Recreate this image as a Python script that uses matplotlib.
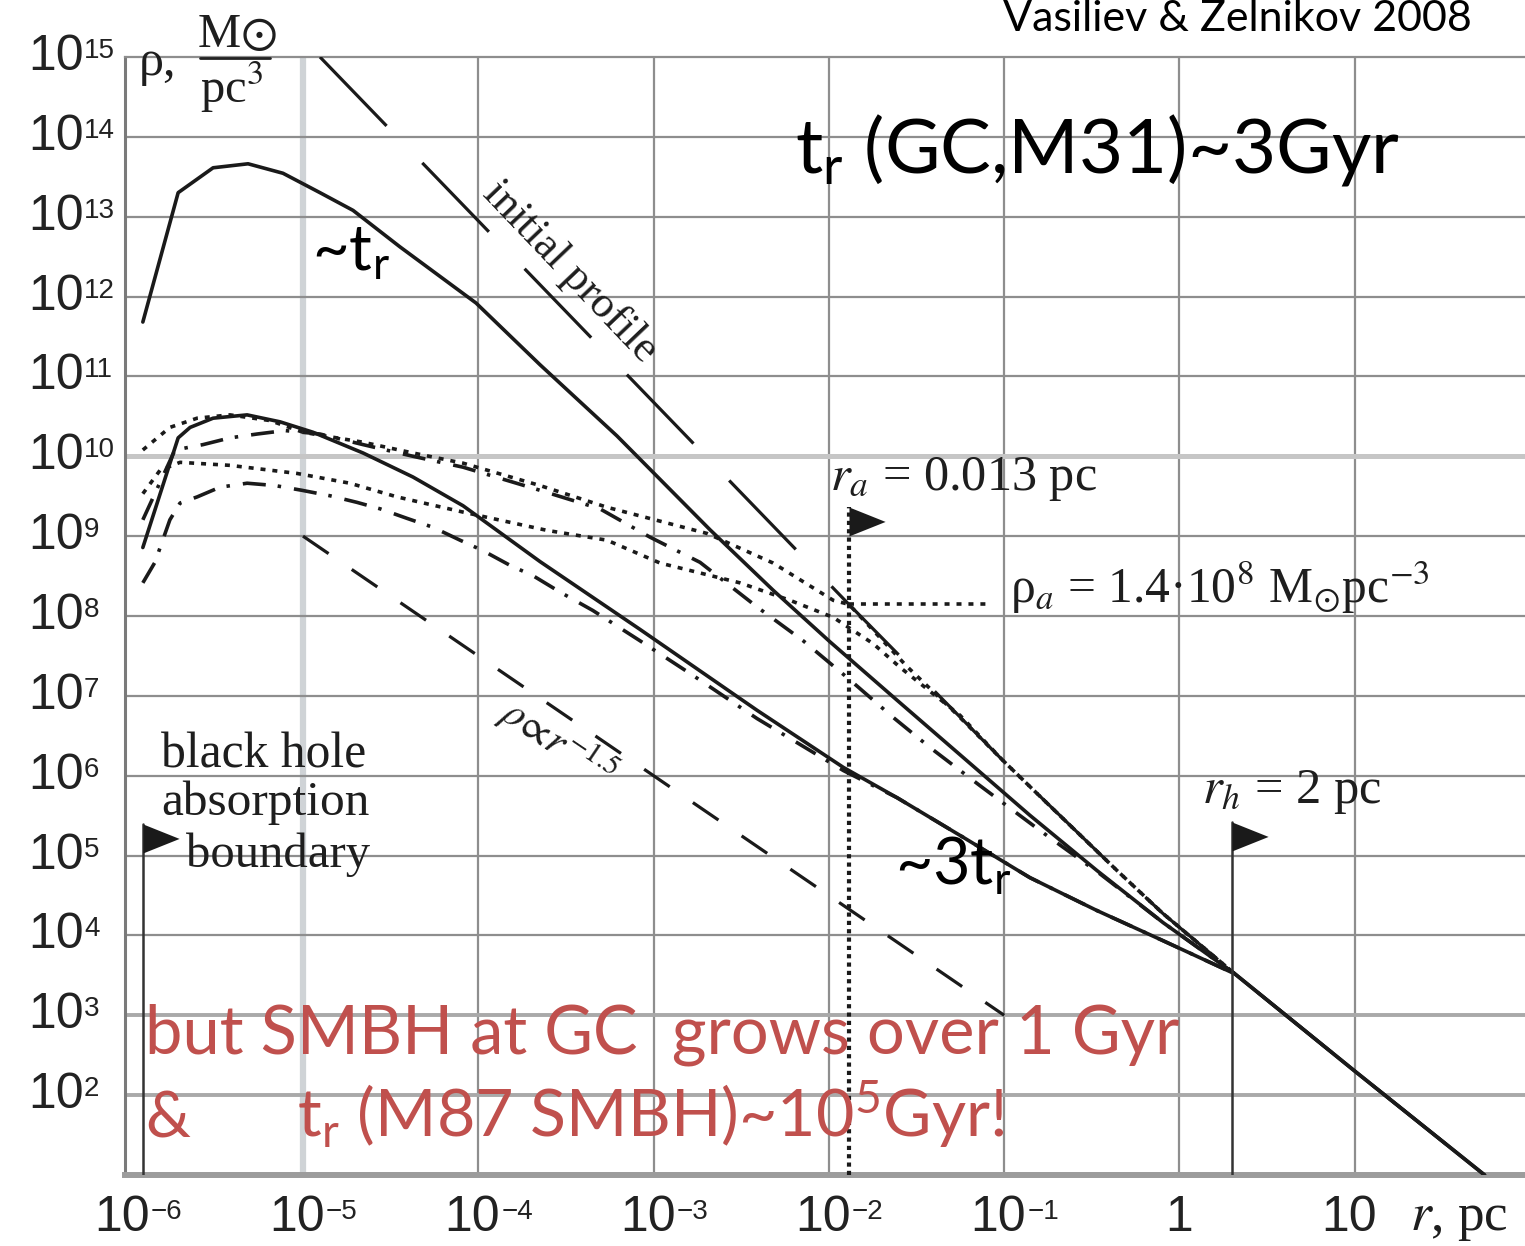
import matplotlib
matplotlib.use("Agg")
import matplotlib.pyplot as plt
from matplotlib.path import Path
from matplotlib.lines import Line2D

plt.rcParams['mathtext.fontset'] = 'custom'
plt.rcParams['mathtext.rm'] = 'Lato'
plt.rcParams['mathtext.it'] = 'Lato:italic'
plt.rcParams['mathtext.bf'] = 'Lato:bold'
plt.rcParams['lines.scale_dashes'] = False
plt.rcParams['lines.dash_capstyle'] = 'butt'
plt.rcParams['lines.solid_capstyle'] = 'round'

W, H, DPI = 1525, 1246, 100

# ---------------- data: radius r [pc], density rho [Msun/pc^3] ----------------
# initial profile (power-law spike)
r_init = [1.25e-5, 1.3e-2, 9.84e-2, 0.440, 0.805, 2.07, 10.0, 55.0]
rho_init = [1e15, 1.4e8, 1.55e6, 6.5e4, 1.88e4, 3.3e3, 200, 10]

# evolved profile after ~t_r (solid)
r_t1 = [1.22e-6, 1.94e-6, 3.07e-6, 4.86e-6, 7.69e-6, 1.25e-5, 1.93e-5, 3.57e-5,
        9.71e-5, 2.25e-4, 6.18e-4, 2.10e-3, 4.81e-3, 1.02e-2, 2.45e-2, 5.82e-2,
        0.140, 0.338, 0.805, 2.07, 10.0, 55.0]
rho_t1 = [4.8e11, 2.0e13, 4.1e13, 4.6e13, 3.5e13, 2.0e13, 1.2e13, 4.2e12,
          8.3e11, 1.4e11, 1.8e10, 1.2e9, 2.1e8, 4.7e7, 8.8e6, 1.7e6,
          3.2e5, 6.5e4, 1.45e4, 3.3e3, 200, 10]

# evolved profile after ~3 t_r (solid)
r_t3 = [1.22e-6, 1.94e-6, 2.27e-6, 3.07e-6, 4.80e-6, 7.40e-6, 1.14e-5, 2.20e-5,
        4.24e-5, 8.19e-5, 2.25e-4, 8.36e-4, 3.89e-3, 1.21e-2, 2.45e-2, 5.82e-2,
        0.140, 0.338, 0.805, 2.07, 10.0, 55.0]
rho_t3 = [7.2e8, 1.7e10, 2.3e10, 3.0e10, 3.3e10, 2.7e10, 2.0e10, 1.1e10,
          5.5e9, 2.4e9, 4.8e8, 6.8e7, 6.6e6, 1.27e6, 5.3e5, 1.7e5,
          5.3e4, 2.05e4, 8.6e3, 3.3e3, 200, 10]

# dotted, upper
r_dot1 = [1.22e-6, 1.74e-6, 2.49e-6, 3.83e-6, 6.49e-6, 1.0e-5, 2.20e-5, 4.24e-5,
          8.19e-5, 2.25e-4, 5.42e-4, 2.02e-3, 4.81e-3, 1.06e-2, 1.3e-2, 2.79e-2,
          5.38e-2, 9.84e-2, 0.182, 0.440, 0.805, 2.07]
rho_dot1 = [1.2e10, 2.3e10, 3.0e10, 3.3e10, 2.8e10, 2.0e10, 1.5e10, 1.1e10,
            8.2e9, 4.3e9, 2.3e9, 1.08e9, 4.6e8, 1.57e8, 1.4e8, 2.33e7,
            5.85e6, 1.55e6, 4.2e5, 6.5e4, 1.88e4, 3.3e3]

# dotted, lower
r_dot2 = [1.22e-6, 1.53e-6, 1.99e-6, 3.83e-6, 9.25e-6, 1.85e-5, 3.44e-5, 8.19e-5,
          2.47e-4, 5.42e-4, 1.09e-3, 3.11e-3, 6.01e-3, 1.06e-2, 1.79e-2, 2.55e-2,
          5.60e-2, 9.84e-2, 0.182, 0.440, 0.805, 2.07]
rho_dot2 = [3.4e9, 6.7e9, 8.4e9, 7.7e9, 6.1e9, 4.6e9, 3.1e9, 2.0e9,
            1.18e9, 8.9e8, 4.6e8, 2.6e8, 1.57e8, 9.6e7, 4.5e7, 2.27e7,
            5.7e6, 1.55e6, 4.2e5, 6.5e4, 1.88e4, 3.3e3]

# dash-dotted, upper
r_dd1 = [1.22e-6, 1.86e-6, 2.69e-6, 3.83e-6, 5.47e-6, 7.89e-6, 1.25e-5, 2.20e-5,
         4.24e-5, 8.19e-5, 2.25e-4, 4.94e-4, 9.55e-4, 1.84e-3, 3.89e-3, 7.13e-3,
         1.27e-2, 2.32e-2, 3.78e-2, 7.28e-2, 0.160, 0.352, 0.805, 2.07]
rho_dd1 = [1.6e9, 1.2e10, 1.4e10, 1.7e10, 1.9e10, 2.1e10, 1.9e10, 1.4e10,
           1.0e10, 7.3e9, 3.75e9, 2.2e9, 9.7e8, 4.7e8, 1.3e8, 4.9e7,
           1.7e7, 5.4e6, 2.25e6, 7.5e5, 2.06e5, 5.9e4, 1.45e4, 3.3e3]

# dash-dotted, lower
r_dd2 = [1.22e-6, 1.43e-6, 1.74e-6, 1.99e-6, 2.49e-6, 3.36e-6, 4.80e-6, 6.92e-6,
         9.86e-6, 1.43e-5, 2.03e-5, 2.75e-5, 3.92e-5, 5.52e-5, 7.87e-5, 1.06e-4,
         1.52e-4, 2.05e-4, 2.92e-4, 4.51e-4, 8.36e-4, 1.68e-3, 3.89e-3, 1.21e-2,
         2.45e-2, 5.82e-2, 0.140, 0.338, 0.805, 2.07]
rho_dd2 = [2.6e8, 4.7e8, 1.6e9, 2.6e9, 3.1e9, 4.1e9, 4.6e9, 4.3e9,
           3.75e9, 3.2e9, 2.65e9, 2.2e9, 1.67e9, 1.29e9, 8.9e8, 6.6e8,
           4.3e8, 3.2e8, 2.0e8, 1.17e8, 4.9e7, 1.8e7, 5.2e6, 1.16e6,
           5.3e5, 1.7e5, 5.3e4, 2.05e4, 8.6e3, 3.3e3]

# reference slope rho ~ r^-1.5
r_ref = [1e-5, 1e-1]
rho_ref = [1e9, 1e3]

# characteristic radii / densities
r_bh = 1.22e-6          # black hole absorption boundary
rho_bh_flag = 2.5e5
r_a = 0.013
rho_a = 1.4e8
rho_a_flag = 2.3e9
r_a_line_end = 0.083
r_h = 2.0
rho_h_flag = 2.6e5

# axis ticks
x_exps = [-6, -5, -4, -3, -2, -1, 0, 1]
y_exps = [15, 14, 13, 12, 11, 10, 9, 8, 7, 6, 5, 4, 3, 2]

# ---------------- figure ----------------
fig = plt.figure(figsize=(W / DPI, H / DPI), dpi=DPI)
ax = fig.add_axes([125 / W, 1 - 1175 / H, 1400 / W, (1175 - 57) / H])
ax.set_xscale('log')
ax.set_yscale('log')
ax.set_xlim(10 ** -6.0154, 10 ** 1.971)
ax.set_ylim(10, 1e15)
ax.minorticks_off()
ax.set_xticks([])
ax.set_yticks([])
ax.tick_params(length=0)

GRID = '#8e8e8e'
for e in x_exps[1:]:
    if e == -5:
        ax.axvline(10.0 ** e, color='#cfd3d6', lw=4.5, zorder=0)
    else:
        ax.axvline(10.0 ** e, color=GRID, lw=1.6, zorder=0)
for e in y_exps[1:]:
    if e == 10:
        ax.axhline(10.0 ** e, color='#c6c6c6', lw=3.6, zorder=0)
    elif e in (3, 2):
        ax.axhline(10.0 ** e, color='#a9a9a9', lw=2.8, zorder=0)
    else:
        ax.axhline(10.0 ** e, color=GRID, lw=1.6, zorder=0)

ax.spines['right'].set_visible(False)
ax.spines['top'].set_color(GRID)
ax.spines['top'].set_linewidth(1.6)
ax.spines['left'].set_color('#7a7a7a')
ax.spines['left'].set_linewidth(2.2)
ax.spines['bottom'].set_color('#9c9c9c')
ax.spines['bottom'].set_linewidth(4.3)

K = '#1a1a1a'
LW = 2.6
dotted = (0, (3.6, 5.0))
dashdot = (0, (16.6, 8.6, 2.5, 9.4))

ax.plot(r_init, rho_init, color=K, lw=2.3, ls=(0, (69, 37)), zorder=3)
ax.plot(r_ref, rho_ref, color=K, lw=2.3, ls=(0, (22.3, 20.2)), zorder=3)
ax.plot(r_dot1, rho_dot1, color=K, lw=LW, ls=dotted, zorder=3)
ax.plot(r_dot2, rho_dot2, color=K, lw=LW, ls=dotted, zorder=3)
ax.plot(r_dd1, rho_dd1, color=K, lw=LW, ls=dashdot, zorder=3)
ax.plot(r_dd2, rho_dd2, color=K, lw=LW, ls=dashdot, zorder=3)
ax.plot(r_t1, rho_t1, color=K, lw=LW, zorder=4)
ax.plot(r_t3, rho_t3, color=K, lw=LW, zorder=4)

# poles with flags
flag = Path([(0, 0), (1, -0.4), (0, -0.8), (0, 0)],
            [Path.MOVETO, Path.LINETO, Path.LINETO, Path.CLOSEPOLY])
ax.plot([r_bh, r_bh], [10, rho_bh_flag], color='#333333', lw=1.8, zorder=4)
ax.plot([r_h, r_h], [10, rho_h_flag], color='#333333', lw=1.8, zorder=4)
ax.plot([r_a, r_a], [10, rho_a_flag], color=K, lw=3.0, ls=(0, (3, 3)), zorder=4)
ax.plot([r_a, r_a_line_end], [rho_a, rho_a], color=K, lw=LW, ls=dotted, zorder=4)
for rr, rho_f in [(r_bh, rho_bh_flag), (r_a, rho_a_flag), (r_h, rho_h_flag)]:
    ax.plot([rr], [rho_f], marker=flag, ms=52, color='#1a1a1a', mew=0, zorder=5)

# ---------------- tick labels ----------------
TICK = dict(family='Liberation Sans', color='#222222', annotation_clip=False)
for e in y_exps:
    ax.annotate('10', xy=(28, 10.0 ** e), xycoords=('figure pixels', 'data'),
                ha='left', va='center', fontsize=36, **TICK)
    ax.annotate(str(e), xy=(84, 10.0 ** e), xycoords=('figure pixels', 'data'),
                xytext=(0, 19), textcoords='offset pixels',
                ha='left', va='top', fontsize=20, **TICK)
for e in x_exps:
    if e == 0:
        ax.annotate('1', xy=(1.0, 0), xycoords=('data', 'axes fraction'),
                    xytext=(0, -43), textcoords='offset pixels',
                    ha='center', va='center', fontsize=36, **TICK)
        continue
    ax.annotate('10', xy=(10.0 ** e, 0), xycoords=('data', 'axes fraction'),
                xytext=(-6, -43), textcoords='offset pixels',
                ha='center', va='center', fontsize=36, **TICK)
    if e != 1:
        ax.annotate('\u2212' + str(-e), xy=(10.0 ** e, 0),
                    xycoords=('data', 'axes fraction'),
                    xytext=(23, -24), textcoords='offset pixels',
                    ha='left', va='top', fontsize=20, **TICK)


# ---------------- text helpers ----------------
def ftext(x, y, s, **kw):
    return fig.text(x / W, 1 - y / H, s, **kw)


def fit(t, width_px):
    rend = fig.canvas.get_renderer()
    w = t.get_window_extent(rend).width
    t.set_fontsize(t.get_fontsize() * width_px / w)


SERIF = dict(family='Liberation Serif', math_fontfamily='stix', color='#1e1e1e',
             va='baseline')

fit(ftext(1410, 1230, '$r$, pc', **SERIF, fontsize=34), 98)

# y-axis label
ftext(139, 75, '\u03c1,', **SERIF, fontsize=36)
ftext(237, 47, 'M$\\odot$', ha='center', **SERIF, fontsize=35)
ftext(232, 103, 'pc$^3$', ha='center', **SERIF, fontsize=35)
fig.add_artist(Line2D([200 / W, 270 / W], [1 - 58 / H, 1 - 58 / H],
                      transform=fig.transFigure, color='#222222', lw=2))

fit(ftext(161, 768, 'black hole', **SERIF, fontsize=34), 206)
fit(ftext(161, 815, 'absorption', **SERIF, fontsize=34), 209)
fit(ftext(186, 867, 'boundary', **SERIF, fontsize=34), 184)

fit(ftext(830, 490, '$r_a$ = 0.013 pc', **SERIF, fontsize=32), 268)
fit(ftext(1010, 603, '\u03c1$_a$ = 1.4\u00b710$^8$ M$_{\\odot}$pc$^{-3}$',
          **SERIF, fontsize=32), 421)
fit(ftext(1202, 803, '$r_h$ = 2 pc', **SERIF, fontsize=32), 180)

ftext(570, 272, 'initial profile', family='Liberation Serif', color='#1e1e1e',
      fontsize=32, rotation=-46.4, rotation_mode='anchor', ha='center', va='center')
ftext(558, 743, '$\\rho\\!\\propto\\! r^{-1.5}$', family='Liberation Serif',
      math_fontfamily='stix', color='#1e1e1e', fontsize=30, rotation=-34,
      rotation_mode='anchor', ha='center', va='center')

SANS = dict(family='Lato', va='baseline')
fit(ftext(1003, 31, 'Vasiliev & Zelnikov 2008', color='black', **SANS, fontsize=30), 469)
fit(ftext(795, 172, 't$_\\mathrm{r}$ (GC,M31)~3Gyr', color='black', **SANS, fontsize=60), 605)
fit(ftext(312, 270, '~t$_\\mathrm{r}$', color='black', **SANS, fontsize=45), 78)
fit(ftext(895, 885, '~3t$_\\mathrm{r}$', color='black', **SANS, fontsize=45), 117)

RED = '#C0504D'
fit(ftext(145, 1053, 'but SMBH at GC  grows over 1 Gyr', color=RED, **SANS, fontsize=48), 1033)
fit(ftext(145, 1137, '&', color=RED, **SANS, fontsize=48), 45)
fit(ftext(297, 1137, 't$_\\mathrm{r}$ (M87 SMBH)~10$^\\mathrm{5}$Gyr!', color=RED, **SANS,
          fontsize=48), 708)

fig.savefig('out.png', dpi=DPI)
